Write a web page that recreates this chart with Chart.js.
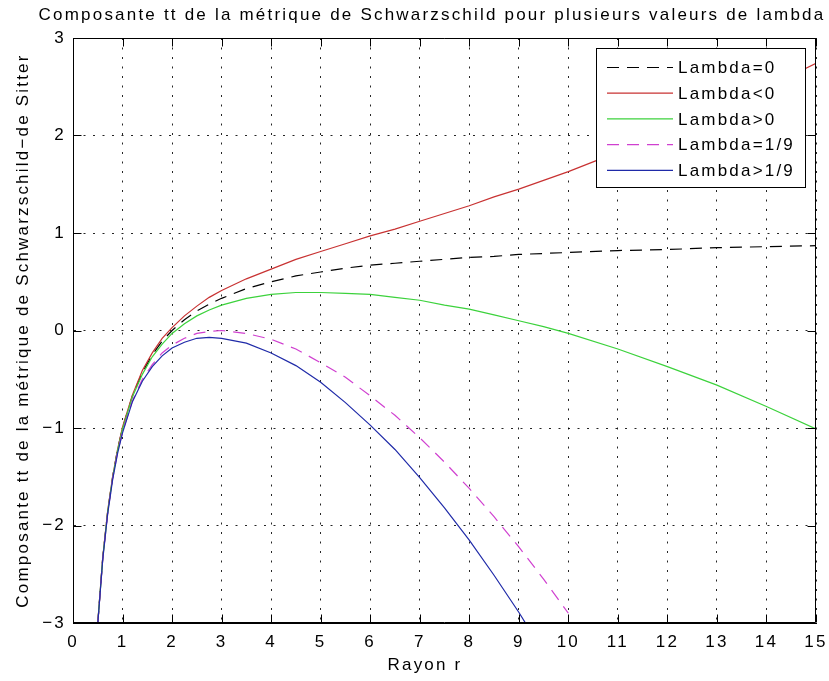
<!DOCTYPE html>
<html>
<head>
<meta charset="utf-8">
<script src="https://cdn.jsdelivr.net/npm/chart.js@4.4.1/dist/chart.umd.min.js"></script>
<style>
  html, body { margin: 0; padding: 0; background: #fff; }
  #wrap { width: 829px; height: 681px; }
</style>
</head>
<body>
<div id="wrap"><canvas id="chart" width="829" height="681"></canvas></div>
<script>
// Rayon r (abscisses communes)
const rValues = [0.5, 0.6, 0.7, 0.8, 0.9, 1.0, 1.2, 1.4, 1.6, 1.8, 2.0, 2.25, 2.5, 2.75, 3.0,
    3.5, 4.0, 4.5, 5.0, 5.5, 6.0, 6.5, 7.0, 7.5, 8.0, 8.5, 9.0, 9.5, 10, 11, 12, 13, 14, 15];

// composante tt, une série par valeur de lambda
const lambdaZero = [-3.00, -2.33, -1.86, -1.50, -1.22, -1.00, -0.67, -0.43, -0.25, -0.11, 0.00, 0.11, 0.20, 0.27, 0.33,
    0.43, 0.50, 0.56, 0.60, 0.64, 0.67, 0.69, 0.71, 0.73, 0.75, 0.76, 0.78, 0.79, 0.80, 0.82, 0.83, 0.85, 0.86, 0.87];
const lambdaNeg = [-3.00, -2.33, -1.85, -1.50, -1.22, -0.99, -0.66, -0.41, -0.23, -0.08, 0.03, 0.15, 0.25, 0.34, 0.41,
    0.53, 0.63, 0.73, 0.81, 0.89, 0.97, 1.04, 1.12, 1.20, 1.28, 1.37, 1.45, 1.54, 1.63, 1.83, 2.03, 2.25, 2.49, 2.74];
const lambdaPos = [-3.00, -2.34, -1.86, -1.51, -1.23, -1.01, -0.68, -0.45, -0.27, -0.14, -0.03, 0.07, 0.15, 0.21, 0.26,
    0.33, 0.37, 0.39, 0.39, 0.38, 0.37, 0.34, 0.31, 0.26, 0.22, 0.16, 0.10, 0.04, -0.03, -0.19, -0.37, -0.56, -0.78, -1.01];
const lambdaNinth = [-3.01, -2.35, -1.88, -1.52, -1.25, -1.04, -0.72, -0.50, -0.35, -0.23, -0.15, -0.08, -0.03, -0.01, 0.00,
    -0.03, -0.09, -0.19, -0.33, -0.48, -0.67, -0.87, -1.10, -1.35, -1.62, -1.91, -2.22, -2.55, -2.90];
const lambdaAbove = [-3.01, -2.35, -1.88, -1.53, -1.26, -1.05, -0.73, -0.52, -0.37, -0.26, -0.18, -0.12, -0.08, -0.07, -0.08,
    -0.13, -0.23, -0.36, -0.53, -0.74, -0.97, -1.22, -1.51, -1.82, -2.15, -2.51, -2.89, -3.30];

const seriesLabels = ['Lambda=0', 'Lambda<0', 'Lambda>0', 'Lambda=1/9', 'Lambda>1/9'];
const seriesValues = [lambdaZero, lambdaNeg, lambdaPos, lambdaNinth, lambdaAbove];
const seriesColors = ['#000000', '#c83232', '#3cd23c', '#d040d0', '#1f2aa8'];
const seriesDashed = [true, false, false, true, false];

const xTicks = [0, 1, 2, 3, 4, 5, 6, 7, 8, 9, 10, 11, 12, 13, 14, 15];
const yTicks = [-3, -2, -1, 0, 1, 2, 3];

const TITLE = 'Composante tt de la métrique de Schwarzschild pour plusieurs valeurs de lambda';
const X_LABEL = 'Rayon r';
const FONT = '"Liberation Sans", Helvetica, Arial, sans-serif';
const SPACING = '2.2px';

// espacement des lettres façon MATLAB
const spacingPlugin = {
    id: 'spacing',
    beforeLayout(chart) { chart.ctx.letterSpacing = SPACING; },
    beforeDraw(chart) { chart.ctx.letterSpacing = SPACING; }
};

// cadre, graduations intérieures, titres et légende
const framePlugin = {
    id: 'frame',
    afterDraw(chart) {
        const { ctx, chartArea: a, scales: { x, y } } = chart;
        ctx.save();
        ctx.letterSpacing = SPACING;
        ctx.strokeStyle = '#000';
        ctx.lineWidth = 1;
        const L = Math.round(a.left) + 0.5, R = Math.round(a.right) - 0.5;
        const T = Math.round(a.top) + 0.5, B = Math.round(a.bottom) - 0.5;
        ctx.beginPath();
        ctx.rect(L, T, R - L, B - T);
        const len = 8;
        xTicks.forEach(v => {
            const px = Math.round(x.getPixelForValue(v)) + 0.5;
            ctx.moveTo(px, B); ctx.lineTo(px, B - len);
            ctx.moveTo(px, T); ctx.lineTo(px, T + len);
        });
        yTicks.forEach(v => {
            const py = Math.round(y.getPixelForValue(v)) + 0.5;
            ctx.moveTo(L, py); ctx.lineTo(L + len, py);
            ctx.moveTo(R, py); ctx.lineTo(R - len, py);
        });
        ctx.stroke();

        // titre et légende de l'axe x
        ctx.fillStyle = '#000';
        ctx.font = '17px ' + FONT;
        ctx.textAlign = 'center';
        ctx.textBaseline = 'middle';
        ctx.fillText(TITLE, 432, 15);
        ctx.fillText(X_LABEL, 425, 665);

        // légende
        const bx = 596.5, by = 48.5, bw = 209, bh = 139;
        ctx.fillStyle = '#fff';
        ctx.fillRect(bx, by, bw, bh);
        ctx.strokeRect(bx, by, bw, bh);
        ctx.textAlign = 'left';
        chart.data.datasets.forEach((ds, i) => {
            const yy = 67.5 + i * 25.7;
            ctx.beginPath();
            ctx.setLineDash(ds.borderDash || []);
            ctx.strokeStyle = ds.borderColor;
            ctx.lineWidth = ds.borderWidth;
            ctx.moveTo(607, yy); ctx.lineTo(673, yy);
            ctx.stroke();
            ctx.setLineDash([]);
            ctx.fillStyle = '#000';
            ctx.fillText(ds.label, 678, yy + 1);
        });
        ctx.restore();
    }
};

const datasets = seriesLabels.map((label, i) => ({
    label: label,
    data: seriesValues[i].map((v, k) => ({ x: rValues[k], y: v })),
    borderColor: seriesColors[i],
    borderWidth: 1.2,
    borderDash: seriesDashed[i] ? [12, 8] : [],
    pointRadius: 0,
    tension: 0,
    fill: false,
    order: seriesLabels.length - i
}));

Chart.defaults.font.family = FONT;
Chart.defaults.font.size = 17;
Chart.defaults.color = '#000';

new Chart(document.getElementById('chart'), {
    type: 'line',
    data: { datasets: datasets },
    options: {
        responsive: false,
        animation: false,
        layout: { padding: { top: 38, right: 13, left: 0, bottom: 0 } },
        plugins: {
            legend: { display: false },
            tooltip: { enabled: false },
            title: { display: false }
        },
        scales: {
            x: {
                type: 'linear',
                min: 0,
                max: 15,
                afterFit(scale) {
                    scale.height = 58;
                    scale.paddingLeft = 0;
                    scale.paddingRight = 0;
                },
                afterBuildTicks(scale) { scale.ticks = xTicks.map(v => ({ value: v })); },
                ticks: { padding: 9, maxRotation: 0, autoSkip: false },
                grid: { color: 'rgba(0,0,0,0.85)', lineWidth: 1, drawTicks: false, tickLength: 0 },
                border: { display: true, color: '#000', dash: [2, 7.5] },
                title: { display: false }
            },
            y: {
                type: 'linear',
                min: -3,
                max: 3,
                afterFit(scale) {
                    scale.width = 73;
                    scale.paddingTop = 0;
                    scale.paddingBottom = 0;
                },
                afterBuildTicks(scale) { scale.ticks = yTicks.map(v => ({ value: v })); },
                ticks: {
                    padding: 7,
                    callback: v => String(v).replace('-', '\u2212')
                },
                grid: { color: 'rgba(0,0,0,0.85)', lineWidth: 1, drawTicks: false, tickLength: 0 },
                border: { display: true, color: '#000', dash: [2, 7.5] },
                title: {
                    display: true,
                    text: 'Composante tt de la métrique de Schwarzschild\u2212de Sitter',
                    padding: { top: 13, bottom: 0 }
                }
            }
        }
    },
    plugins: [spacingPlugin, framePlugin]
});
</script>
</body>
</html>
